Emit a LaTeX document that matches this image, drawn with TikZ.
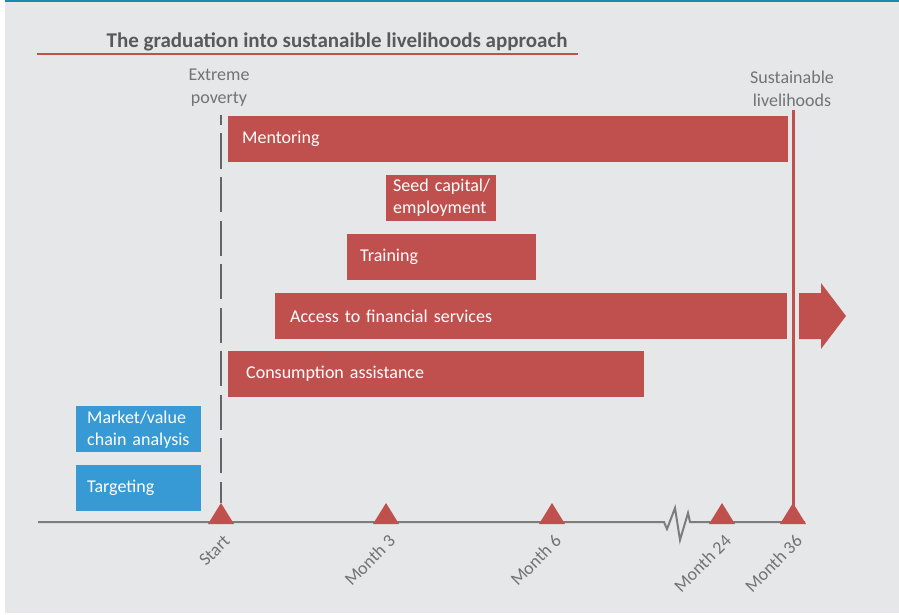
\documentclass[tikz,border=0pt]{standalone}
\usepackage{fontspec}
\setmainfont{Carlito}
\usetikzlibrary{positioning}
\definecolor{bar-red}{RGB}{192,80,77}
\definecolor{bar-blue}{RGB}{55,154,212}
\definecolor{panel-grey}{RGB}{230,231,233}
\definecolor{axis-grey}{RGB}{125,125,125}
\definecolor{label-grey}{RGB}{115,115,115}
\definecolor{title-grey}{RGB}{89,89,89}
\definecolor{rule-teal}{RGB}{24,138,176}

\begin{document}
\begin{tikzpicture}[x=1pt, y=-1pt,
  bar/.style={anchor=north west, minimum height=46pt, inner ysep=0pt, text=white, align=left, font=\fontsize{18}{22}\selectfont},
  redbar/.style={bar, fill=bar-red},
  bluebar/.style={bar, fill=bar-blue, inner xsep=11pt, text width=103pt},
  headlabel/.style={align=center, text=label-grey, font=\fontsize{18}{23}\selectfont},
  ticklabel/.style={rotate=45, anchor=east, inner sep=0pt, text=label-grey, font=\fontsize{18}{22}\selectfont}]
\useasboundingbox (0,0) rectangle (899,615);
\fill[white] (0,0) rectangle (899,615);
\fill[panel-grey] (5,0) rectangle (899,613);
\fill[rule-teal] (5,0) rectangle (899,1.6);

\node[font=\fontsize{21}{25}\selectfont\bfseries, text=title-grey] (title) at (337,42) {The graduation into sustanaible livelihoods approach};
\draw[bar-red, line width=2pt] (37,54) -- (578,54);

\node[headlabel] (poverty) at (219,88) {Extreme\\poverty};
\node[headlabel] (livelihoods) at (792,89) {Sustainable\\livelihoods};

\draw[black!60, line width=2pt, dash pattern=on 35pt off 8.5pt, dash phase=25pt] (221,115) -- (221,503);
\draw[bar-red, line width=3pt] (793,110) -- (793,512);

\node[redbar, inner xsep=14pt, text width=532pt] (mentoring) at (228,116) {Mentoring};
\node[redbar, inner xsep=7pt, text width=96pt] (seed) at (386,175) {\mbox{Seed capital/}\\employment};
\node[redbar, inner xsep=13pt, text width=163pt] (training) at (347,234) {Training};
\node[redbar, inner xsep=15pt, text width=482pt] (finance) at (275,293) {Access to financial services};
\node[redbar, inner xsep=18pt, text width=380pt] (consumption) at (228,351) {Consumption assistance};
\node[bluebar] (market) at (76,406) {Market/value\\chain~analysis};
\node[bluebar] (targeting) at (76,465) {Targeting};

\fill[bar-red] (799,293) -- (821,293) -- (821,283) -- (846,316) -- (821,349) -- (821,339) -- (799,339) -- cycle;

\draw[axis-grey, line width=2pt, line join=miter] (38,522) -- (664,522) -- (667,529) -- (675,508) -- (680,540) -- (688,513) -- (690,522) -- (805,522);

\foreach \name/\x/\lab in {start/221/Start, m3/386/Month 3, m6/552/Month 6, m24/722/Month 24, m36/793/Month 36} {
  \coordinate (tick-\name) at (\x,524);
  \fill[bar-red] (tick-\name) ++(-13,0) -- ++(13,-21) -- ++(13,21) -- cycle;
  \node[ticklabel] (lab-\name) at ([shift={(6,14)}]tick-\name) {\lab};
}
\end{tikzpicture}
\end{document}
